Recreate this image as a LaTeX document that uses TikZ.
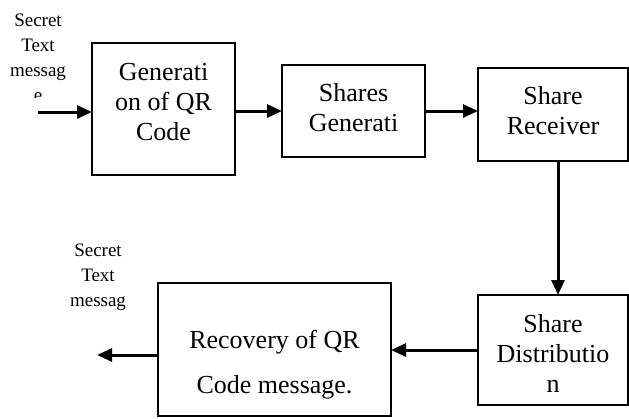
\documentclass[tikz,border=0pt]{standalone}
\usepackage{fontspec}
\setmainfont{Liberation Serif}
\usetikzlibrary{arrows.meta}

\newcommand{\downpad}[1]{\rule[-#1]{0pt}{#1}}
\newcommand{\uppad}[1]{\rule{0pt}{#1}}

\tikzset{
  stage/.style={draw, line width=1.8pt, inner sep=0pt, outer sep=0pt, align=center,
    font=\fontsize{26}{30}\selectfont},
  flow/.style={line width=3pt, -{Triangle[length=15pt,width=13pt]}},
  note/.style={align=center, inner sep=0pt, font=\fontsize{19}{25}\selectfont}
}

\begin{document}
\begin{tikzpicture}[x=1pt,y=-1pt]
\useasboundingbox (0,0) rectangle (629,418);

% top row
\node[stage, minimum width=143pt, minimum height=132pt] (qrgen) at (163.5,109) {Generati\\on of QR\\Code\downpad{14pt}};
\node[stage, minimum width=143pt, minimum height=92pt] (sharegen) at (353.5,111) {Shares\\Generati\downpad{8pt}};
\node[stage, minimum width=150pt, minimum height=93pt] (receiver) at (553,114.5) {Share\\Receiver\downpad{9pt}};

% bottom row
\node[stage, minimum width=150pt, minimum height=110pt] (distrib) at (553,350) {\uppad{24pt}Share\\Distributio\\n};
\node[stage, minimum width=233pt, minimum height=133pt, font=\fontsize{26}{45}\selectfont] (recovery) at (274.5,349.5) {\uppad{48pt}Recovery of QR\\Code message.};

% messages
\begin{scope}
\clip (0,0) rectangle (90,97);
\node[note] (secretin) at (38,58) {Secret\\Text\\messag\\e};
\end{scope}
\node[note] (secretout) at (98,277) {Secret\\Text\\messag};

\coordinate (start) at (38,112);
\coordinate (finish) at (97,355);
\coordinate (drop) at (558,0);

\draw[flow] (start) -- (qrgen.west |- start);
\draw[flow] (sharegen.west -| qrgen.east) -- (sharegen.west);
\draw[flow] (sharegen.east) -- (sharegen.east -| receiver.west);
\draw[flow] (receiver.south -| drop) -- (distrib.north -| drop);
\draw[flow] (distrib.west) -- (distrib.west -| recovery.east);
\draw[flow] (recovery.west |- finish) -- (finish);

\end{tikzpicture}
\end{document}
